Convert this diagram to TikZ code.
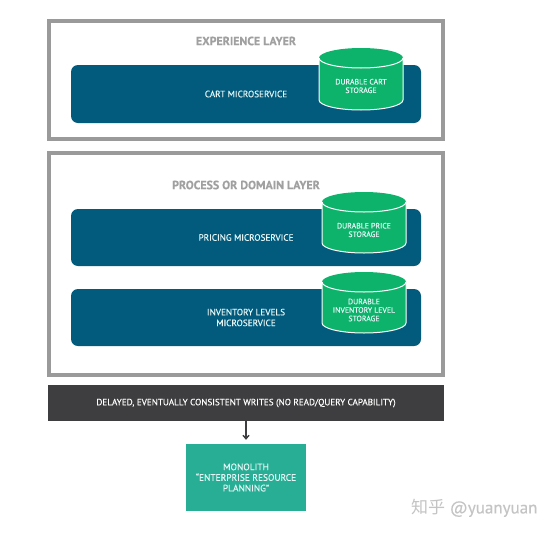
\documentclass[tikz,border=0pt]{standalone}
\usepackage{fontspec}
\setmainfont[FakeBold=0.25]{PT Sans}
\newfontfamily\cjk{Noto Sans CJK SC}
\definecolor{frame}{HTML}{9A9A9A}
\definecolor{svc}{HTML}{025A7C}
\definecolor{store}{HTML}{0DB36A}
\definecolor{band}{HTML}{3E3E40}
\definecolor{mono}{HTML}{27AE94}
\definecolor{lbl}{HTML}{A0A0A0}
\definecolor{wm}{HTML}{C4C4C4}
\definecolor{pale}{HTML}{E4F6F6}
\usetikzlibrary{arrows.meta}
\tikzset{
  x=1pt,y=-1pt,
  layerbox/.style={draw=frame,line width=4pt,fill=white,rectangle,minimum width=394pt,inner sep=0pt},
  service/.style={fill=svc,rectangle,rounded corners=7pt,minimum width=350pt,inner sep=0pt,text=pale,font=\fontsize{9.2}{10.8}\selectfont,align=center},
  title/.style={text=lbl,font=\fontsize{11.9}{14}\selectfont\bfseries},
  cyl/.style={text=pale,font=\fontsize{7.8}{8.5}\selectfont,align=center},
  barbox/.style={fill=band,rectangle,minimum width=396pt,minimum height=36pt,inner sep=0pt,text=white,font=\fontsize{9.1}{11}\selectfont},
  monobox/.style={fill=mono,rectangle,minimum width=120pt,minimum height=67pt,inner sep=0pt,text=pale,font=\fontsize{9.4}{10.6}\selectfont,align=center},
  link/.style={draw=band,line width=1.4pt,-{Straight Barb[length=3.5pt,width=6pt]}}
}
\newcommand{\drum}[3]{% left x, top-ellipse centre y, bottom y of wall
  \fill[store] (#1,#2) -- (#1,#3) arc[start angle=180,end angle=360,x radius=42,y radius=-10] -- (#1+84,#2) arc[start angle=0,end angle=180,x radius=42,y radius=-10] -- cycle;
  \draw[white,line width=1pt] (#1,#2) -- (#1,#3) arc[start angle=180,end angle=360,x radius=42,y radius=-10] -- (#1+84,#2);
  \draw[white,line width=1pt] (#1,#2) arc[start angle=180,end angle=360,x radius=42,y radius=-10];
}
\begin{document}
\begin{tikzpicture}
\useasboundingbox (0,0) rectangle (554,533);
\fill[white] (0,0) rectangle (554,533);
\node[layerbox,minimum height=118pt] (exp) at (246,79.5) {};
\node[layerbox,minimum height=222pt] (proc) at (246,263.5) {};
\node[title] (expt) at (246,41) {EXPERIENCE LAYER};
\node[title] (proct) at (246,185) {PROCESS OR DOMAIN LAYER};
\node[service,minimum height=58pt] (cart) at (246,94) {CART MICROSERVICE};
\node[service,minimum height=57pt] (price) at (246,237.5) {PRICING MICROSERVICE};
\node[service,minimum height=57pt] (inv) at (246,317.5) {INVENTORY LEVELS\\MICROSERVICE};
\drum{319}{58}{100}
\drum{322}{202}{243}
\drum{322}{282}{323}
\node[cyl] (cartd) at (361,86) {DURABLE CART\\STORAGE};
\node[cyl] (priced) at (364,230) {DURABLE PRICE\\STORAGE};
\node[cyl] (invd) at (364,310) {DURABLE\\INVENTORY LEVEL\\STORAGE};
\node[barbox] (bar) at (246,403) {DELAYED, EVENTUALLY CONSISTENT WRITES (NO READ/QUERY CAPABILITY)};
\node[monobox] (mono) at (246,477.5) {MONOLITH\\``ENTERPRISE RESOURCE\\PLANNING''};
\draw[link] (bar.south) -- ([yshift=4pt]mono.north);
\node[text=wm,font=\fontsize{17}{19}\selectfont,anchor=east] (wmark) at (541,508) {{\cjk 知乎} @yuanyuan};
\end{tikzpicture}
\end{document}
